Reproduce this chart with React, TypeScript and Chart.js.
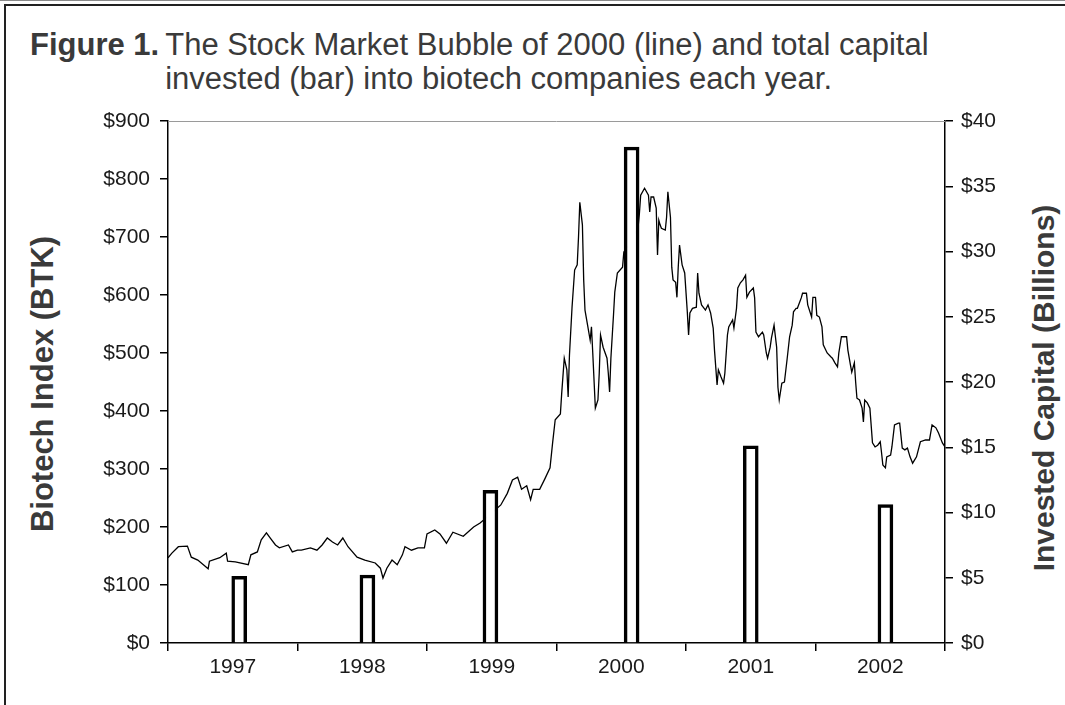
import React, { useEffect, useRef } from "react";
import { Chart, registerables } from "chart.js";

Chart.register(...registerables);

// ---- Data ----
const yearLabels = ["1997", "1998", "1999", "2000", "2001", "2002"];

// Invested capital per year (billions $), bars placed near mid-year
const barYears = [1997.55, 1998.54, 1999.49, 2000.58, 2001.5, 2002.54];
const investedBillions = [5.1, 5.2, 11.7, 38.0, 15.1, 10.6];

// Biotech index (BTK) time series: decimal years and index values
const btkDates = [
  1997.0, 1997.03, 1997.08, 1997.15, 1997.18, 1997.23, 1997.31, 1997.32, 1997.4, 1997.45, 1997.46, 1997.52, 1997.62, 1997.64, 1997.69, 1997.72, 1997.76, 1997.79, 1997.83, 1997.86, 1997.93, 1997.96,
  1998.0, 1998.03, 1998.1, 1998.15, 1998.19, 1998.23, 1998.27, 1998.31, 1998.35, 1998.39, 1998.46, 1998.52, 1998.6, 1998.64, 1998.66, 1998.69, 1998.73, 1998.77, 1998.81, 1998.83, 1998.88, 1998.93, 1998.98,
  1999.0, 1999.06, 1999.1, 1999.15, 1999.2, 1999.28, 1999.36, 1999.41, 1999.49, 1999.57, 1999.62, 1999.66, 1999.7, 1999.73, 1999.77, 1999.8, 1999.82, 1999.87, 1999.91, 1999.95, 1999.97, 1999.99,
  2000.03, 2000.04, 2000.06, 2000.08, 2000.09, 2000.1, 2000.12, 2000.14, 2000.16, 2000.17, 2000.18, 2000.2, 2000.21, 2000.22, 2000.24, 2000.26, 2000.27, 2000.28, 2000.3, 2000.32, 2000.33, 2000.34, 2000.36, 2000.39, 2000.4, 2000.41, 2000.42, 2000.44, 2000.45, 2000.47, 2000.51, 2000.52, 2000.57, 2000.63, 2000.64, 2000.65, 2000.68, 2000.71, 2000.72, 2000.73, 2000.75, 2000.77, 2000.78, 2000.79, 2000.8, 2000.81, 2000.84, 2000.85, 2000.86, 2000.88, 2000.89, 2000.9, 2000.92, 2000.93, 2000.94, 2000.95, 2000.97, 2000.99,
  2001.01, 2001.02, 2001.03, 2001.05, 2001.08, 2001.09, 2001.1, 2001.12, 2001.15, 2001.17, 2001.19, 2001.21, 2001.22, 2001.24, 2001.25, 2001.27, 2001.29, 2001.3, 2001.32, 2001.33, 2001.36, 2001.37, 2001.39, 2001.4, 2001.42, 2001.44, 2001.46, 2001.47, 2001.49, 2001.52, 2001.53, 2001.54, 2001.56, 2001.59, 2001.6, 2001.62, 2001.63, 2001.65, 2001.66, 2001.68, 2001.7, 2001.71, 2001.72, 2001.74, 2001.76, 2001.78, 2001.8, 2001.82, 2001.83, 2001.85, 2001.86, 2001.89, 2001.9, 2001.93, 2001.94, 2001.97, 2001.98,
  2002.0, 2002.01, 2002.03, 2002.05, 2002.06, 2002.09, 2002.12, 2002.13, 2002.15, 2002.17, 2002.18, 2002.2, 2002.24, 2002.25, 2002.27, 2002.28, 2002.3, 2002.31, 2002.32, 2002.34, 2002.36, 2002.37, 2002.38, 2002.4, 2002.42, 2002.44, 2002.46, 2002.48, 2002.5, 2002.51, 2002.52, 2002.54, 2002.55, 2002.58, 2002.59, 2002.61, 2002.64, 2002.65, 2002.67, 2002.69, 2002.71, 2002.73, 2002.75, 2002.78, 2002.81, 2002.85, 2002.88, 2002.9, 2002.93, 2002.95, 2002.98, 2003.0,
];
const btkValues = [
  147, 155, 166, 167, 148, 143, 128, 141, 147, 155, 141, 140, 135, 152, 157, 178, 190, 181, 169, 164, 169, 157,
  160, 160, 164, 160, 169, 181, 174, 169, 181, 166, 148, 143, 138, 129, 112, 129, 143, 135, 152, 166, 160, 164, 164,
  188, 195, 188, 172, 191, 184, 200, 207, 222, 238, 258, 281, 286, 265, 271, 247, 265, 265, 283, 302, 345, 385,
  395, 430, 491, 471, 424, 496, 579, 643, 652, 700, 760, 721, 626, 574, 548, 522, 545, 500, 405, 419, 465, 531, 510, 491, 465, 433, 491, 565, 605, 638, 648, 674, 690, 717, 740, 772, 784, 772, 743, 769, 769, 750, 669, 729, 721, 715, 712, 734, 778, 734, 648, 626, 622, 596, 648, 686, 652, 638,
  571, 531, 569, 577, 579, 638, 603, 583, 574, 583, 569, 543, 505, 445, 471, 459, 448, 465, 531, 545, 557, 543, 577, 612, 621, 626, 634, 596, 605, 612, 595, 536, 528, 536, 531, 500, 491, 510, 526, 548, 510, 441, 419, 448, 450, 488, 528, 548, 571, 577, 577, 595, 603, 603, 583, 562, 596,
  596, 565, 562, 545, 514, 500, 493, 491, 483, 476, 500, 528, 528, 505, 479, 467, 483, 450, 422, 419, 405, 381, 419, 414, 405, 345, 338, 341, 347, 328, 307, 302, 321, 324, 338, 376, 379, 379, 336, 333, 336, 321, 310, 321, 347, 350, 350, 376, 371, 362, 345, 338,
];

const leftAxisMin = 0;
const leftAxisMax = 900;
const leftAxisStep = 100;
const rightAxisMin = 0;
const rightAxisMax = 40;
const rightAxisStep = 5;

const FONT = '"Liberation Sans", Arial, Helvetica, sans-serif';

const topBorderPlugin = {
  id: "topBorder",
  beforeDatasetsDraw(chart: any) {
    const { ctx, chartArea } = chart;
    ctx.save();
    ctx.strokeStyle = "#9a9a9a";
    ctx.lineWidth = 1;
    ctx.beginPath();
    ctx.moveTo(chartArea.left, Math.round(chartArea.top) + 0.5);
    ctx.lineTo(chartArea.right, Math.round(chartArea.top) + 0.5);
    ctx.stroke();
    ctx.restore();
  },
};

export default function App() {
  const canvasRef = useRef<HTMLCanvasElement | null>(null);

  useEffect(() => {
    if (!canvasRef.current) return;
    const tickFont = { family: FONT, size: 21 };
    const chart = new Chart(canvasRef.current, {
      type: "bar",
      data: {
        labels: yearLabels,
        datasets: [
          {
            type: "bar",
            label: "Invested capital",
            xAxisID: "x2",
            yAxisID: "y1",
            data: barYears.map((x, i) => ({ x, y: investedBillions[i] })),
            backgroundColor: "#ffffff",
            borderColor: "#000000",
            borderWidth: 3.5,
            borderSkipped: "bottom",
            barThickness: 15,
            order: 0,
          } as any,
          {
            type: "line",
            label: "BTK",
            xAxisID: "x2",
            yAxisID: "y",
            data: btkDates.map((x, i) => ({ x, y: btkValues[i] })),
            borderColor: "#000000",
            borderWidth: 1.3,
            pointRadius: 0,
            tension: 0,
            fill: false,
            order: 1,
          } as any,
        ],
      },
      options: {
        responsive: false,
        animation: false,
        maintainAspectRatio: false,
        layout: { padding: { top: 121, left: 0, right: 0, bottom: 0 } },
        plugins: {
          legend: { display: false },
          tooltip: { enabled: false },
          title: { display: false },
        },
        scales: {
          x: {
            type: "category",
            labels: yearLabels,
            position: "bottom",
            offset: true,
            grid: {
              offset: true,
              drawOnChartArea: false,
              drawTicks: true,
              tickLength: 8,
              color: "#000000",
              lineWidth: 1.5,
            },
            border: { display: true, color: "#000000", width: 1.5 },
            ticks: { color: "#1a1a1a", font: tickFont, padding: 4, maxRotation: 0, autoSkip: false },
            afterFit: (s: any) => {
              s.height = 62;
            },
          },
          x2: {
            type: "linear",
            display: false,
            min: 1997,
            max: 2003,
            offset: false,
          },
          y: {
            type: "linear",
            position: "left",
            min: leftAxisMin,
            max: leftAxisMax,
            grid: { drawOnChartArea: false, drawTicks: true, tickLength: 8, color: "#000000", lineWidth: 1.5 },
            border: { display: true, color: "#000000", width: 1.5 },
            ticks: {
              stepSize: leftAxisStep,
              color: "#1a1a1a",
              font: tickFont,
              padding: 10,
              callback: (v: any) => "$" + v,
            },
            afterFit: (s: any) => {
              s.width = 168;
            },
          },
          y1: {
            type: "linear",
            position: "right",
            min: rightAxisMin,
            max: rightAxisMax,
            grid: { drawOnChartArea: false, drawTicks: true, tickLength: 8, color: "#000000", lineWidth: 1.5 },
            border: { display: true, color: "#000000", width: 1.5 },
            ticks: {
              stepSize: rightAxisStep,
              color: "#1a1a1a",
              font: tickFont,
              padding: 8,
              callback: (v: any) => "$" + v,
            },
            afterFit: (s: any) => {
              s.width = 120;
            },
          },
        },
      },
      plugins: [topBorderPlugin],
    });
    return () => chart.destroy();
  }, []);

  return (
    <div
      style={{
        position: "absolute",
        left: 0,
        top: 0,
        width: 1065,
        height: 705,
        background: "#ffffff",
        overflow: "hidden",
        fontFamily: FONT,
      }}
    >
      <div style={{ position: "absolute", left: 0, top: 0, width: 1065, height: 1, background: "#8a8a8a" }} />
      <div
        style={{
          position: "absolute",
          left: 4,
          top: 4,
          width: 1065,
          height: 705,
          borderTop: "2px solid #222",
          borderLeft: "2px solid #222",
          boxSizing: "border-box",
        }}
      />
      <div
        style={{
          position: "absolute",
          left: 30,
          top: 28,
          display: "flex",
          fontSize: 31,
          lineHeight: "34px",
          color: "#3a3a3a",
          whiteSpace: "nowrap",
        }}
      >
        <span style={{ fontWeight: "bold", marginRight: 6 }}>Figure 1.</span>
        <div>
          <div>The Stock Market Bubble of 2000 (line) and total capital</div>
          <div>invested (bar) into biotech companies each year.</div>
        </div>
      </div>
      <div
        style={{
          position: "absolute",
          left: 43,
          top: 384,
          transform: "translate(-50%, -50%) rotate(-90deg)",
          whiteSpace: "nowrap",
          fontWeight: "bold",
          fontSize: 31,
          color: "#3a3a3a",
        }}
      >
        Biotech Index (BTK)
      </div>
      <div
        style={{
          position: "absolute",
          left: 1044,
          top: 388,
          transform: "translate(-50%, -50%) rotate(-90deg)",
          whiteSpace: "nowrap",
          fontWeight: "bold",
          fontSize: 30,
          color: "#3a3a3a",
        }}
      >
        Invested Capital (Billions)
      </div>
      <canvas ref={canvasRef} width={1065} height={705} style={{ position: "absolute", left: 0, top: 0 }} />
    </div>
  );
}
